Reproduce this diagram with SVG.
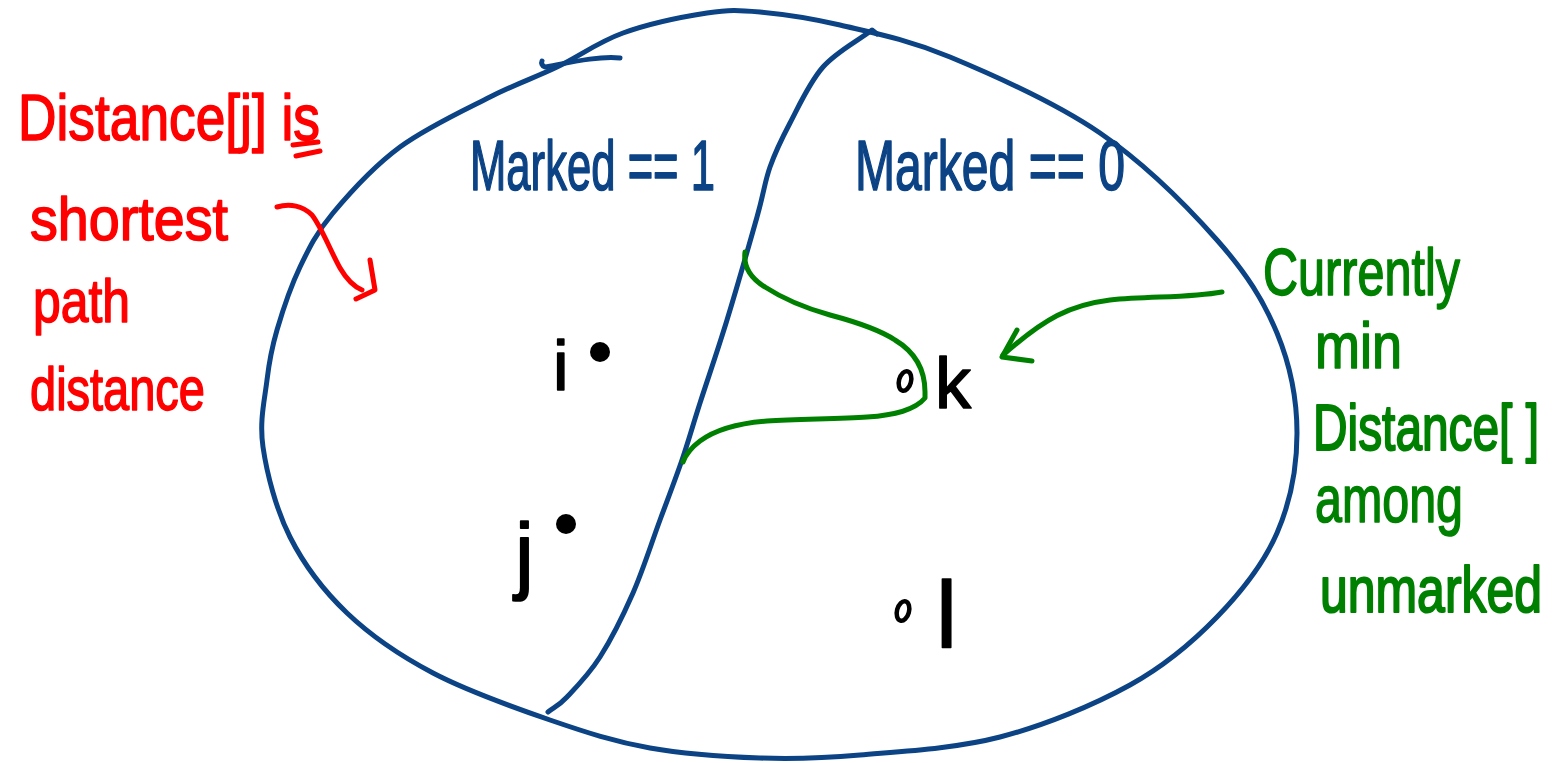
<svg xmlns="http://www.w3.org/2000/svg" width="1562" height="763" viewBox="0 0 1562 763">
<style>
.blue{fill:none;stroke:#0b4385;stroke-width:5;stroke-linecap:round;stroke-linejoin:round}
.green{fill:none;stroke:#008000;stroke-width:5;stroke-linecap:round;stroke-linejoin:round}
.red{fill:none;stroke:#ff0000;stroke-width:5;stroke-linecap:round;stroke-linejoin:round}
.hw{font-family:"Liberation Sans","DejaVu Sans",sans-serif;stroke-width:1.6;stroke-linejoin:round}
.tred{fill:#ff0000;stroke:#ff0000}
.tblue{fill:#0b4385;stroke:#0b4385}
.tgreen{fill:#008000;stroke:#008000}
.tblack{fill:#000;stroke:#000}
.open{fill:#fff;stroke:#000;stroke-width:4.5}
</style>
<rect width="1562" height="763" fill="#fff"/>
<g id="regions">
<path id="outer-set" class="blue" d="M490,97 C516.2,83.7 534.8,77.7 557,67 C579.2,56.3 598,42 623,33 C648,24 684.2,16.5 707,13 C729.8,9.5 737.8,10 760,12 C782.2,14 808.3,17.5 840,25 C871.7,32.5 906.7,39 950,57 C993.3,75 1055.5,102.5 1100,133 C1144.5,163.5 1187.5,206.7 1217,240 C1246.5,273.3 1263.7,300.8 1277,333 C1290.3,365.2 1297,399.7 1297,433 C1297,466.3 1290.3,502.3 1277,533 C1263.7,563.7 1241.5,591.7 1217,617 C1192.5,642.3 1166.2,665 1130,685 C1093.8,705 1045,725.3 1000,737 C955,748.7 900,751.5 860,755 C820,758.5 795,759.2 760,758 C725,756.8 685,754.3 650,748 C615,741.7 586.2,732.5 550,720 C513.8,707.5 466.8,690.8 433,673 C399.2,655.2 370.8,635.7 347,613 C323.2,590.3 304,564.7 290,537 C276,509.3 266.8,473.2 263,447 C259.2,420.8 264.7,399.5 267,380 C269.3,360.5 271.5,348.8 277,330 C282.5,311.2 290.7,286.5 300,267 C309.3,247.5 316.3,233 333,213 C349.7,193 373.8,166.3 400,147 C426.2,127.7 463.8,110.3 490,97 Z"/>
<path id="outer-hook" class="blue" d="M620,58 C598,56 572,62 545,67 C542,66 541,63 542,61"/>
<path id="divider" class="blue" d="M877,34 L872,30 C855.7,42.3 836.7,51.5 823,67 C809.3,82.5 798.8,106.3 790,123 C781.2,139.7 775.5,151.3 770,167 C764.5,182.7 764.2,191.5 757,217 C749.8,242.5 736.5,289 727,320 C717.5,351 707.5,379.7 700,403 C692.5,426.3 688.7,440.5 682,460 C675.3,479.5 668.2,497.8 660,520 C651.8,542.2 643,570.2 633,593 C623,615.8 611,639.7 600,657 C589,674.3 575.7,687.8 567,697 C558.3,706.2 554.3,707 548,712"/>
<path id="frontier" class="green" d="M745,252 C743,268 752,279 765,287 C785,300 805,308 830,315 C860,323 880,330 895,340 C915,352 925,370 925,392 L925,398 C915,410 895,415 867,417 C840,419 800,419 767,421 C740,423 715,430 700,441 C692,447 686,454 683,462"/>
</g>
<g id="node-i">
<circle cx="600" cy="352" r="10" fill="#000"/>
<text class="hw tblack" x="553" y="390" font-size="70">i</text>
</g>
<g id="node-j">
<circle cx="566" cy="524" r="10" fill="#000"/>
<text class="hw tblack" x="515" y="583" font-size="85">j</text>
</g>
<g id="node-k">
<ellipse class="open" cx="905" cy="381" rx="6" ry="10" transform="rotate(15 905 381)"/>
<text class="hw tblack" x="935" y="408" font-size="72">k</text>
</g>
<g id="node-l">
<ellipse class="open" cx="903" cy="611" rx="6" ry="10" transform="rotate(15 903 611)"/>
<text class="hw tblack" x="936" y="648" font-size="95">l</text>
</g>
<g id="label-marked1">
<text class="hw tblue" x="470" y="190" font-size="70" textLength="245" lengthAdjust="spacingAndGlyphs">Marked == 1</text>
</g>
<g id="label-marked0">
<text class="hw tblue" x="855" y="190" font-size="70" textLength="270" lengthAdjust="spacingAndGlyphs">Marked == 0</text>
</g>
<g id="label-red">
<text class="hw tred" x="18" y="140" font-size="64" textLength="302" lengthAdjust="spacingAndGlyphs">Distance[j] is</text>
<path class="red" d="M293,145 L318,142 M296,156 L320,151"/>
<text class="hw tred" x="30" y="240" font-size="62" textLength="198" lengthAdjust="spacingAndGlyphs">shortest</text>
<text class="hw tred" x="33" y="322" font-size="62" textLength="97" lengthAdjust="spacingAndGlyphs">path</text>
<text class="hw tred" x="30" y="410" font-size="62" textLength="175" lengthAdjust="spacingAndGlyphs">distance</text>
</g>
<g id="label-green">
<text class="hw tgreen" x="1263" y="295" font-size="66" textLength="197" lengthAdjust="spacingAndGlyphs">Currently</text>
<text class="hw tgreen" x="1315" y="368" font-size="64" textLength="87" lengthAdjust="spacingAndGlyphs">min</text>
<text class="hw tgreen" transform="translate(1313 450) scale(1 1.3)" x="0" y="0" font-size="50" textLength="226" lengthAdjust="spacingAndGlyphs">Distance[ ]</text>
<text class="hw tgreen" x="1315" y="522" font-size="66" textLength="148" lengthAdjust="spacingAndGlyphs">among</text>
<text class="hw tgreen" transform="translate(1320 612) scale(1 1.3)" x="0" y="0" font-size="50" textLength="222" lengthAdjust="spacingAndGlyphs">unmarked</text>
</g>
<g id="connectors">
<g id="red-arrow">
<path class="red" d="M277,207 C290,203 303,206 312,215 C322,228 330,250 340,268 C347,280 355,287 362,290"/>
<path class="red" d="M370,260 L375,290 L356,299"/>
</g>
<g id="green-arrow">
<path class="green" d="M1222,292 C1190,298 1150,296 1110,300 C1070,305 1045,318 1003,355"/>
<path class="green" d="M1017,330 L1002,357 L1032,361"/>
</g>
</g>
</svg>
